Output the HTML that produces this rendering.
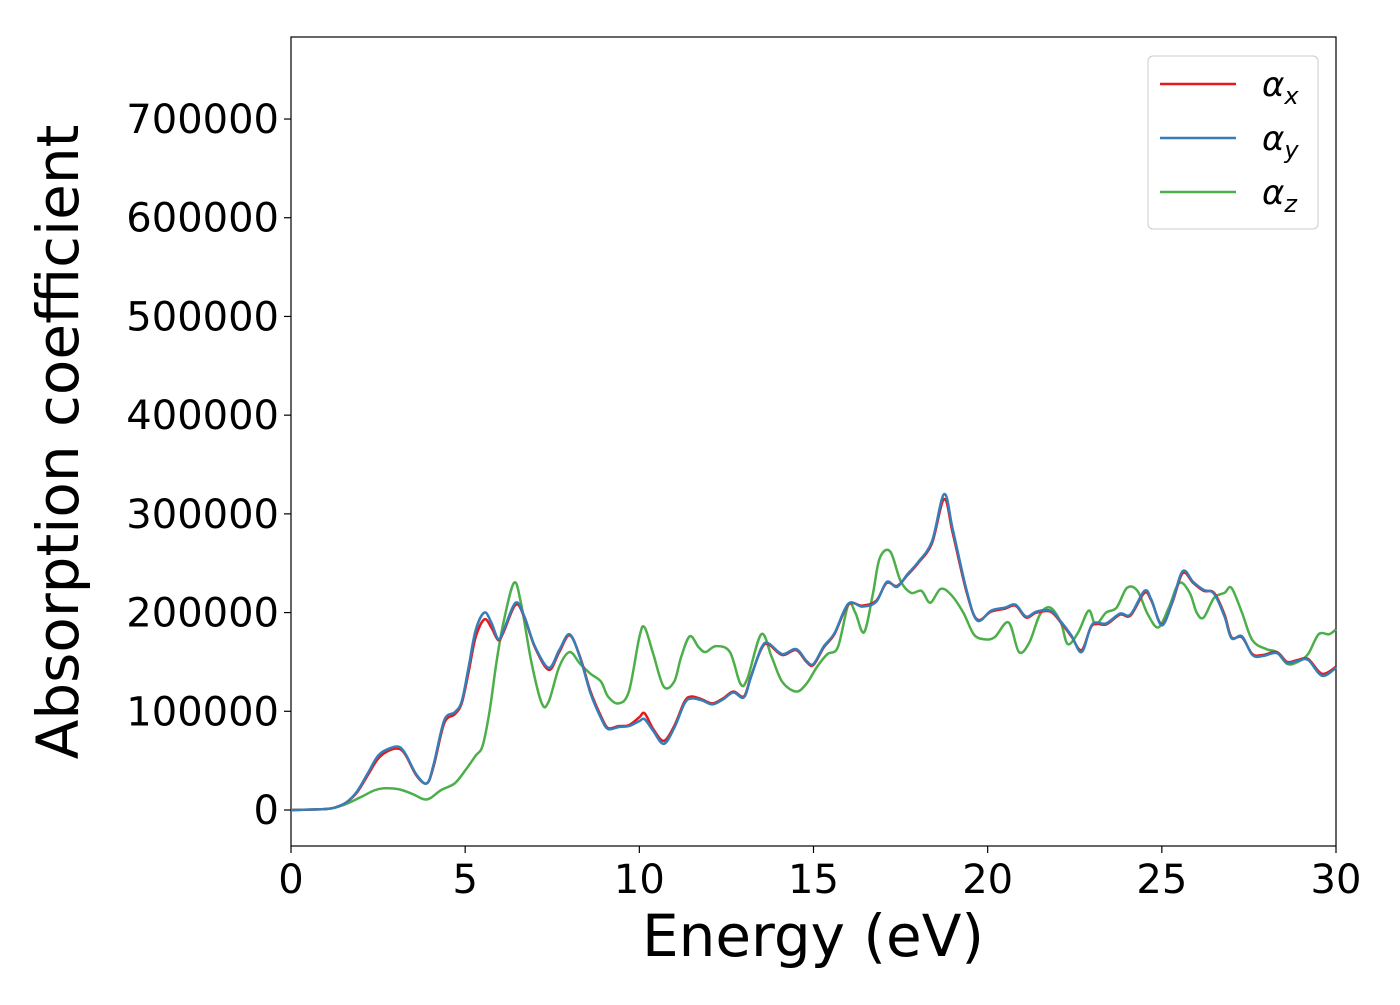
<!DOCTYPE html>
<html><head><meta charset="utf-8"><style>
body{margin:0;background:#fff}
svg text{font-family:"DejaVu Sans","Liberation Sans",sans-serif}
</style></head><body>
<svg id="c" width="1400" height="1000">
<rect x="291" y="37" width="1045" height="809" fill="#fff" stroke="#000" stroke-width="1.2"/>
<g id="ticks"></g>
<g id="series"></g>
<text x="813" y="956" font-size="58" text-anchor="middle">Energy (eV)</text>
<text transform="translate(78,442) rotate(-90)" font-size="58" text-anchor="middle">Absorption coefficient</text>
<g>
<rect x="1148" y="56" width="170" height="173" rx="5" fill="#fff" stroke="#ccc"/>
<g><line x1="1160" x2="1236" y1="84" y2="84" stroke="#e41a1c" stroke-width="2.5"/><text x="1262" y="96" font-size="34" font-style="italic">α<tspan font-size="24" dy="8">x</tspan></text></g>
<g><line x1="1160" x2="1236" y1="138" y2="138" stroke="#377eb8" stroke-width="2.5"/><text x="1262" y="150" font-size="34" font-style="italic">α<tspan font-size="24" dy="8">y</tspan></text></g>
<g><line x1="1160" x2="1236" y1="192" y2="192" stroke="#4daf4a" stroke-width="2.5"/><text x="1262" y="204" font-size="34" font-style="italic">α<tspan font-size="24" dy="8">z</tspan></text></g>
</g>
</svg>
<script>
const xTicks=[0,5,10,15,20,25,30];
const yTicks=[0,100000,200000,300000,400000,500000,600000,700000];
const eX=[0,1,1.3,1.6,1.9,2.2,2.5,2.8,3.1,3.3,3.6,3.9,4.1,4.4,4.7,4.9,5.1,5.3,5.55,5.75,5.95,6.1,6.45,6.7,7.0,7.4,7.7,8.0,8.3,8.6,8.9,9.1,9.4,9.7,10.0,10.15,10.4,10.7,11.0,11.3,11.5,11.8,12.1,12.4,12.7,13.0,13.2,13.5,13.7,14.1,14.5,14.8,15.0,15.3,15.6,16.0,16.4,16.8,17.1,17.4,17.7,18.0,18.4,18.75,19.0,19.4,19.7,20.1,20.5,20.8,21.1,21.4,21.8,22.1,22.4,22.7,23.0,23.4,23.8,24.1,24.5,24.7,25.0,25.3,25.6,25.9,26.2,26.5,26.8,27.0,27.3,27.6,27.9,28.3,28.6,28.9,29.2,29.6,30];
const alphaX=[0,1,3,8,18,35,52,60,62,55,35,27,45,88,97,108,140,175,193,185,172,180,208,195,165,142,160,177,155,120,95,83,85,86,94,98,82,70,85,110,115,112,108,113,120,115,135,163,168,157,162,150,147,165,178,208,207,212,230,227,238,250,270,315,280,220,193,201,204,207,195,200,201,190,176,162,187,188,198,197,220,212,188,210,240,230,222,220,198,175,175,158,157,160,150,152,153,138,145];
const alphaY=[0,1,3,8,19,37,55,62,64,56,36,27,47,91,99,110,145,182,200,190,173,182,210,196,166,144,162,178,154,118,93,82,84,85,90,92,80,67,83,108,113,111,107,112,119,114,134,164,169,158,163,151,148,166,179,209,206,211,231,226,239,251,272,320,284,222,192,202,205,208,196,201,202,191,177,160,188,189,199,198,222,213,187,211,242,231,223,219,196,174,176,157,156,159,149,151,152,136,144];
const eZ=[0,1,1.5,2.0,2.4,2.7,3.1,3.5,3.8,4.0,4.3,4.7,5.0,5.3,5.5,5.7,5.9,6.1,6.4,6.6,6.9,7.2,7.4,7.7,8.0,8.3,8.6,8.9,9.1,9.4,9.7,10.0,10.15,10.4,10.7,11.0,11.2,11.45,11.7,11.9,12.2,12.6,12.9,13.1,13.5,13.8,14.1,14.5,14.8,15.1,15.4,15.7,16.0,16.2,16.45,16.7,16.9,17.2,17.5,17.8,18.1,18.35,18.65,18.95,19.3,19.6,19.9,20.2,20.6,20.9,21.2,21.5,21.8,22.1,22.3,22.6,22.9,23.1,23.4,23.7,24.0,24.3,24.6,24.9,25.2,25.5,25.8,26.0,26.2,26.5,26.8,27.0,27.3,27.6,28.0,28.3,28.6,28.9,29.2,29.5,29.8,30];
const alphaZ=[0,1,5,13,20,22,21,16,11,12,20,27,40,55,65,100,150,190,230,210,150,108,110,145,160,148,138,130,115,108,120,175,185,158,125,130,155,176,165,160,166,160,128,133,178,155,130,120,128,145,158,165,208,200,180,218,255,262,232,220,222,210,224,218,200,178,173,175,190,160,170,198,205,190,168,180,202,188,200,205,225,222,198,185,205,230,220,200,195,215,220,225,200,172,163,160,148,150,158,178,178,183];
const NS='http://www.w3.org/2000/svg';
const sx=v=>291+v*(1045/30);
const sy=v=>810-v*(98.71/100000);
const tg=document.getElementById('ticks');
function mk(tag,attrs,parent){const e=document.createElementNS(NS,tag);for(const k in attrs)e.setAttribute(k,attrs[k]);parent.appendChild(e);return e;}
xTicks.forEach(t=>{
  const l=mk('line',{x1:sx(t),x2:sx(t),y1:846,y2:853,stroke:'#000','stroke-width':1.2},tg);
  
  
  const tx=mk('text',{x:sx(t),y:893,'font-size':40,'text-anchor':'middle'},tg);tx.textContent=t;
  
  
});
yTicks.forEach(t=>{
  const l=mk('line',{x1:284,x2:291,y1:sy(t),y2:sy(t),stroke:'#000','stroke-width':1.2},tg);
  
  
  const tx=mk('text',{x:279,y:sy(t)+14,'font-size':40,'text-anchor':'end'},tg);tx.textContent=t;
  
  
});
function path(xs,ys){
  const p=xs.map((x,i)=>[sx(x),sy(ys[i]*1000)]);
  let d='M'+p[0][0]+','+p[0][1];
  for(let i=0;i<p.length-1;i++){
    const p0=p[Math.max(0,i-1)],p1=p[i],p2=p[i+1],p3=p[Math.min(p.length-1,i+2)];
    const c1=[p1[0]+(p2[0]-p0[0])/6,p1[1]+(p2[1]-p0[1])/6];
    const c2=[p2[0]-(p3[0]-p1[0])/6,p2[1]-(p3[1]-p1[1])/6];
    d+=' C'+c1+' '+c2+' '+p2;
  }
  return d;
}
const sg=document.getElementById('series');
const zp=mk('path',{d:path(eZ,alphaZ),fill:'none',stroke:'#4daf4a','stroke-width':2.5},sg);


const xp=mk('path',{d:path(eX,alphaX),fill:'none',stroke:'#e41a1c','stroke-width':2.5},sg);


const yp=mk('path',{d:path(eX,alphaY),fill:'none',stroke:'#377eb8','stroke-width':2.5},sg);


</script>
</body></html>
